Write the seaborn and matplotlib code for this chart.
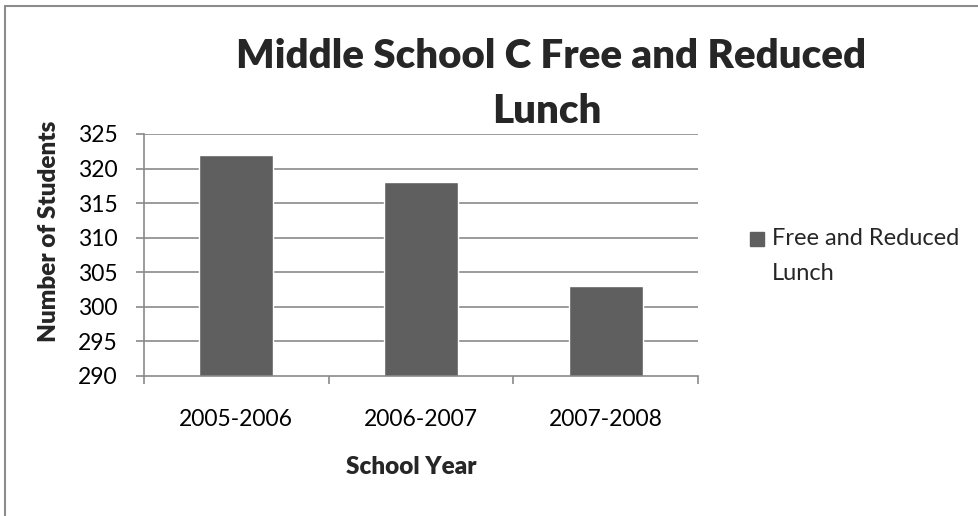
import matplotlib
matplotlib.use("Agg")
import matplotlib.pyplot as plt
import seaborn as sns
import pandas as pd

# Data
years = ["2005-2006", "2006-2007", "2007-2008"]
students = [322, 318, 303]
series_name = "Free and Reduced\nLunch"
y_ticks = [290, 295, 300, 305, 310, 315, 320, 325]

sns.set_theme(style="white")
plt.rcParams["font.family"] = ["Lato", "DejaVu Sans"]

W, H = 979, 516
fig = plt.figure(figsize=(W / 100, H / 100), dpi=100)
ax = fig.add_axes([144 / W, 1 - 376 / H, (698 - 144) / W, (376 - 134) / H])

df = pd.DataFrame({"year": years, "students": students})
bar_color = "#5f5f5f"
grid_color = "#8a8a8a"
tick_size = 16.5
label_size = 17.5

ax.set_axisbelow(True)
for t in y_ticks[1:]:
    ax.axhline(t, color=grid_color, lw=1.2, zorder=0)

sns.barplot(data=df, x="year", y="students", color=bar_color, width=0.4,
            saturation=1, ax=ax, zorder=2)

ax.set_ylim(y_ticks[0], y_ticks[-1])
ax.set_xlim(-0.5, len(years) - 0.5)
ax.set_yticks(y_ticks)
ax.set_yticklabels([str(t) for t in y_ticks], fontsize=tick_size, color="black")

# category labels centred, ticks on category boundaries
ax.set_xticks(range(len(years)))
ax.set_xticklabels(years, fontsize=tick_size, color="black")
ax.tick_params(axis="x", length=0, pad=24)
ax.set_xticks([i - 0.5 for i in range(len(years) + 1)], minor=True)
ax.tick_params(axis="x", which="minor", length=6, width=1.2, color=grid_color, direction="out")
ax.tick_params(axis="y", length=6, width=1.2, color=grid_color, direction="out", pad=13)
ax.xaxis.set_ticks_position("bottom")
ax.yaxis.set_ticks_position("left")

for side in ["top", "right"]:
    ax.spines[side].set_visible(False)
for side in ["left", "bottom"]:
    ax.spines[side].set_color(grid_color)
    ax.spines[side].set_linewidth(1.2)

ax.set_xlabel("")
ax.set_ylabel("")

# axis titles
fig.text(49 / W, 1 - 231 / H, "Number of Students", rotation=90, fontsize=label_size,
         fontweight="heavy", ha="center", va="center")
fig.text(411 / W, 1 - 467 / H, "School Year", fontsize=label_size,
         fontweight="heavy", ha="center", va="center")

# chart title
fig.text(551 / W, 1 - 57 / H, "Middle School C Free and Reduced", fontsize=29,
         fontweight="heavy", ha="center", va="center")
fig.text(547 / W, 1 - 112 / H, "Lunch", fontsize=29,
         fontweight="heavy", ha="center", va="center")

# legend: swatch plus series name, one text line per row
fig.add_artist(plt.Rectangle((750 / W, 1 - 246 / H), 14 / W, 14 / H,
                             transform=fig.transFigure, color=bar_color))
for i, line in enumerate(series_name.split("\n")):
    fig.text(772 / W, 1 - (239 + 34 * i) / H, line, fontsize=17,
             ha="left", va="center")

# outer chart border (top and left edges)
fig.add_artist(plt.Line2D([5 / W, 5 / W], [0, 1 - 5.5 / H], transform=fig.transFigure,
                          color="#8c8c8c", lw=1.5))
fig.add_artist(plt.Line2D([5 / W, 1], [1 - 5.5 / H, 1 - 5.5 / H], transform=fig.transFigure,
                          color="#8c8c8c", lw=1.5))

fig.savefig("out.png", dpi=100, facecolor="white")
